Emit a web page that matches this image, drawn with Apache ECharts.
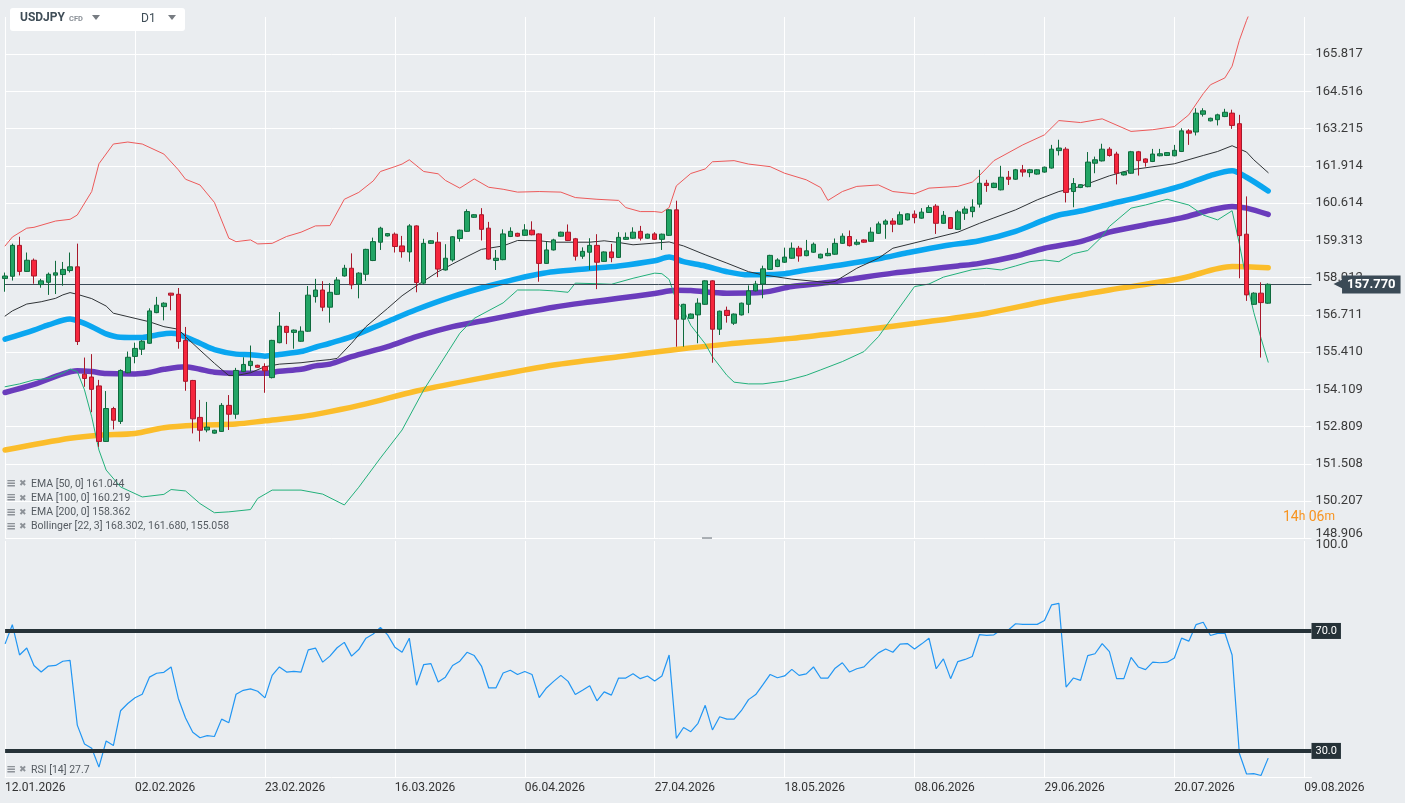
<!DOCTYPE html>
<html><head><meta charset="utf-8">
<script src="https://cdn.jsdelivr.net/npm/echarts@6/dist/echarts.min.js"></script>
<style>html,body{margin:0;padding:0;background:#eaedf0;overflow:hidden}#c{width:1405px;height:803px}</style>
</head><body><div id="c"></div>
<script>
// ---------- DATA ----------
const xTickLabels = ['12.01.2026','02.02.2026','23.02.2026','16.03.2026','06.04.2026','27.04.2026','18.05.2026','08.06.2026','29.06.2026','20.07.2026','09.08.2026'];
const yAxisMin = 148.906, yAxisStep = 1.300846, yAxisSteps = 14;
const lastPrice = 157.770;

const opens = [157.98,158.06,159.14,158.23,158.62,157.77,157.85,158.10,158.12,158.26,
158.39,154.64,154.54,154.23,152.29,153.44,152.99,154.69,155.26,155.51,
155.72,156.79,157.00,157.47,157.43,155.82,154.42,153.13,152.69,152.58,
152.64,153.55,153.24,154.73,154.94,154.95,154.91,154.52,155.74,156.31,
156.10,155.79,156.14,157.35,157.58,156.98,157.43,158.07,158.34,157.78,
158.13,158.61,159.25,159.47,159.53,159.12,158.91,159.82,157.82,159.21,
159.25,158.28,158.63,159.38,159.63,160.12,160.21,159.74,158.61,158.64,
159.45,159.56,159.49,159.67,159.54,158.51,158.98,159.46,159.60,159.37,
158.76,158.90,159.14,158.58,158.91,158.72,159.35,159.39,159.63,159.39,
159.54,159.35,159.49,160.38,156.56,156.59,156.71,157.08,157.90,156.21,
156.87,156.42,156.71,157.08,157.55,157.79,158.30,158.40,158.55,158.69,
159.04,158.78,158.90,158.70,158.78,158.83,159.21,159.45,159.18,159.33,
159.28,159.56,159.88,159.99,159.88,160.03,160.23,160.09,160.29,160.51,
159.91,160.11,159.70,160.26,160.32,160.58,161.31,161.16,161.08,161.52,
161.45,161.78,161.68,161.63,161.70,161.84,162.45,162.50,161.02,161.16,
161.19,162.01,162.09,162.50,162.33,161.60,161.66,162.41,162.16,162.07,
162.27,162.28,162.27,162.42,163.14,163.10,163.72,163.49,163.53,163.64,
163.76,163.39,159.53,157.08,157.47,157.12];
const closes = [158.07,159.14,158.23,158.62,158.07,157.90,158.13,158.18,158.30,158.39,
155.78,154.49,154.11,152.29,153.44,153.03,154.77,155.23,155.54,155.79,
156.85,157.05,157.12,157.40,155.78,154.39,153.08,152.68,152.79,152.68,
153.55,153.24,154.77,154.98,155.09,154.88,154.76,155.82,156.32,156.10,
156.18,156.14,157.40,157.58,156.98,157.50,157.93,158.34,157.76,158.17,
159.00,159.27,159.74,159.55,159.10,158.92,159.82,157.84,159.21,159.30,
158.31,158.69,159.44,159.67,160.32,160.21,159.70,158.66,158.69,159.54,
159.63,159.46,159.68,159.51,158.51,158.98,159.33,159.60,159.31,158.76,
158.93,159.14,158.55,158.91,158.71,159.42,159.42,159.60,159.39,159.53,
159.35,159.53,160.38,156.56,157.08,156.74,157.12,157.90,156.21,156.84,
156.69,156.74,157.12,157.55,157.79,158.32,158.79,158.63,158.73,159.04,
158.77,158.95,159.18,158.83,158.86,159.21,159.46,159.13,159.25,159.25,
159.60,159.89,159.99,159.88,160.21,160.24,160.11,160.30,160.46,159.91,
160.19,159.73,160.31,160.41,160.48,161.31,161.23,161.31,161.52,161.45,
161.78,161.70,161.78,161.78,161.87,162.50,162.54,160.99,161.30,161.26,
162.05,162.13,162.50,162.28,161.66,161.70,162.41,162.10,162.04,162.33,
162.34,162.38,162.46,163.14,163.06,163.76,163.84,163.58,163.70,163.79,
163.33,159.48,157.41,157.47,157.14,157.78];
const lows = [157.52,157.91,158.09,158.21,157.80,157.66,157.41,157.44,157.73,158.19,
155.66,154.20,153.31,152.10,152.27,152.71,152.90,154.67,155.02,155.31,
155.70,156.77,156.52,156.87,155.53,154.06,152.57,152.29,152.61,152.56,
152.62,152.69,153.08,154.71,154.73,154.86,153.99,154.49,155.72,155.69,
155.53,155.77,156.12,157.14,156.84,156.44,157.41,158.05,157.61,157.29,
157.90,158.59,158.98,159.45,158.89,158.71,158.57,157.50,157.76,159.19,
158.03,158.26,158.57,159.27,159.61,160.10,159.31,158.64,158.28,158.62,
159.43,159.44,159.47,159.49,157.87,158.49,158.96,159.44,159.29,158.61,
158.67,158.28,157.61,158.56,158.55,158.70,159.33,159.37,159.31,159.37,
159.33,158.98,159.47,155.60,155.60,156.57,155.72,157.06,155.04,156.01,
156.44,156.36,156.69,156.77,157.53,157.29,158.28,158.38,158.53,158.67,
158.57,158.76,158.88,158.68,158.76,158.81,159.19,159.10,159.14,159.23,
159.26,159.54,159.37,159.60,159.86,160.01,159.91,160.07,160.27,159.54,
159.89,159.71,159.68,160.03,160.12,160.46,161.01,161.14,161.06,161.25,
161.43,161.54,161.52,161.61,161.68,161.82,162.28,160.64,160.47,161.14,
161.17,161.66,162.07,162.24,161.27,161.58,161.64,161.58,161.89,162.05,
162.25,162.26,162.25,162.40,162.65,162.98,163.64,163.47,163.33,163.62,
163.21,157.99,157.20,157.06,155.22,157.10];
const highs = [158.19,159.20,159.44,158.89,158.68,157.97,158.19,158.60,158.56,158.89,
159.20,155.22,155.34,154.44,154.05,153.50,154.81,155.43,155.74,155.83,
156.94,157.34,157.15,157.48,157.65,156.29,154.44,153.74,153.67,152.70,
153.63,153.91,154.86,155.23,155.64,154.97,155.02,155.84,156.81,156.33,
156.20,156.31,157.72,157.97,157.89,157.82,158.03,158.46,158.86,158.20,
159.02,159.41,159.79,159.57,159.59,159.47,159.88,159.84,159.37,159.32,
159.60,159.18,159.46,159.69,160.40,160.23,160.44,159.96,158.98,159.70,
159.77,159.58,159.88,159.98,159.56,159.27,159.37,159.62,159.87,159.40,
159.07,159.39,159.53,158.93,159.19,159.60,159.59,159.77,159.82,159.55,
159.60,159.55,160.40,160.70,157.10,156.76,157.29,157.92,157.92,156.86,
157.00,156.76,157.14,157.74,157.90,158.43,158.81,158.69,159.06,159.24,
159.12,159.33,159.24,158.85,159.04,159.38,159.56,159.66,159.35,159.35,
159.77,159.97,160.05,160.09,160.32,160.26,160.36,160.44,160.54,160.58,
160.34,160.13,160.38,160.50,160.75,161.78,161.43,161.33,161.92,161.74,
161.81,161.95,161.81,161.80,161.89,162.65,162.83,162.57,161.49,161.28,
162.40,162.24,162.69,162.57,162.41,161.72,162.44,162.44,162.18,162.51,
162.51,162.40,162.65,163.23,163.20,163.93,163.93,163.60,163.74,163.91,
163.88,163.70,160.85,157.50,157.85,157.81];

const ema50 = [[0,155.86],[4,156.18],[6,156.36],[9,156.57],[10,156.51],[12,156.30],[14,156.05],[16,155.93],[19,155.92],[21,156.01],[23,156.07],[24,156.04],[27,155.72],[29,155.50],[32,155.34],[34,155.32],[36,155.27],[38,155.33],[41,155.43],[43,155.58],[45,155.72],[48,155.95],[53,156.48],[57,156.90],[62,157.35],[67,157.72],[71,157.98],[74,158.14],[76,158.22],[81,158.33],[85,158.42],[90,158.60],[92,158.73],[94,158.57],[97,158.42],[100,158.22],[103,158.11],[105,158.11],[108,158.15],[111,158.28],[116,158.46],[121,158.67],[125,158.88],[130,159.12],[135,159.30],[140,159.63],[144,160.03],[146,160.20],[149,160.34],[153,160.58],[158,160.88],[163,161.22],[167,161.58],[170,161.75],[172,161.52],[175,161.04]];
const ema100 = [[0,154.00],[4,154.28],[8,154.65],[10,154.76],[12,154.73],[14,154.66],[18,154.65],[20,154.70],[22,154.81],[25,154.90],[27,154.81],[29,154.71],[32,154.67],[36,154.67],[38,154.74],[41,154.81],[43,154.93],[45,154.99],[48,155.25],[53,155.60],[57,155.95],[62,156.30],[67,156.54],[71,156.74],[76,156.98],[81,157.16],[85,157.29],[90,157.46],[93,157.57],[95,157.56],[100,157.47],[105,157.50],[109,157.70],[114,157.84],[118,157.99],[123,158.17],[128,158.31],[132,158.42],[135,158.51],[140,158.76],[144,159.04],[149,159.27],[153,159.60],[158,159.86],[163,160.10],[167,160.37],[170,160.50],[172,160.44],[175,160.22]];
const ema200 = [[0,151.99],[9,152.40],[13,152.51],[18,152.57],[22,152.77],[27,152.86],[32,152.90],[36,153.01],[41,153.15],[45,153.33],[50,153.60],[57,154.05],[67,154.55],[76,154.96],[85,155.25],[93,155.50],[100,155.69],[109,155.89],[118,156.16],[128,156.48],[136,156.77],[144,157.18],[153,157.58],[163,157.99],[170,158.40],[175,158.36]];
const bbUpper = [[0,159.12],[1,159.43],[3,159.74],[4,159.77],[7,159.99],[9,160.05],[10,160.20],[12,161.02],[13,161.99],[15,162.68],[17,162.75],[19,162.68],[22,162.33],[24,161.78],[25,161.45],[27,161.25],[29,160.64],[31,159.39],[32,159.27],[34,159.33],[35,159.19],[37,159.21],[39,159.45],[41,159.60],[43,159.82],[45,159.83],[47,160.75],[49,160.99],[51,161.39],[52,161.72],[54,161.89],[55,161.98],[56,162.13],[58,161.72],[60,161.64],[61,161.41],[63,161.14],[65,161.46],[67,161.17],[69,161.10],[71,161.00],[74,161.02],[77,161.00],[79,160.81],[82,160.75],[85,160.71],[86,160.46],[88,160.32],[90,160.32],[91,160.29],[92,160.46],[93,161.22],[95,161.65],[97,161.81],[98,162.06],[101,162.10],[103,161.98],[106,161.89],[108,161.66],[111,161.43],[113,161.16],[114,160.71],[116,161.02],[118,161.20],[121,161.25],[123,161.02],[126,160.94],[128,161.14],[132,161.20],[134,161.35],[135,161.58],[137,162.10],[141,162.65],[144,163.00],[146,163.50],[149,163.43],[152,163.56],[156,163.12],[159,163.18],[162,163.29],[164,163.70],[166,164.44],[167,164.75],[169,164.99],[170,165.40],[171,166.30],[172,167.00],[173,167.60],[174,168.00],[175,168.30]];
const bbMid = [[0,156.67],[1,156.85],[3,157.09],[5,157.17],[7,157.29],[8,157.41],[9,157.49],[10,157.43],[12,157.28],[14,157.02],[15,156.77],[18,156.59],[20,156.47],[22,156.30],[24,156.21],[25,155.95],[27,155.48],[29,155.02],[31,154.59],[32,154.59],[34,154.69],[36,154.90],[38,154.99],[41,155.04],[43,155.10],[45,155.15],[46,155.19],[48,155.72],[50,156.30],[53,156.94],[55,157.38],[57,157.73],[60,158.22],[62,158.49],[64,158.75],[66,159.00],[69,159.12],[71,159.31],[74,159.30],[76,159.25],[81,159.25],[83,159.30],[85,159.24],[87,159.16],[90,159.22],[92,159.26],[94,159.12],[97,158.81],[100,158.52],[103,158.22],[105,158.11],[109,157.96],[114,157.84],[115,157.88],[118,158.34],[121,158.69],[123,159.04],[128,159.35],[132,159.60],[135,159.91],[137,160.10],[140,160.38],[143,160.73],[146,161.02],[149,161.20],[153,161.57],[156,161.78],[162,161.99],[166,162.28],[168,162.42],[170,162.62],[172,162.40],[173,162.13],[175,161.68]];
const bbLower = [[0,154.20],[2,154.30],[4,154.44],[6,154.49],[8,154.67],[9,154.82],[10,154.73],[11,154.09],[12,153.15],[13,151.99],[14,151.29],[16,150.70],[19,150.35],[22,150.44],[23,150.61],[25,150.56],[27,150.12],[29,149.80],[31,149.83],[34,149.91],[35,150.30],[37,150.59],[41,150.59],[44,150.45],[47,150.07],[49,150.69],[52,151.71],[55,152.69],[58,154.09],[63,156.07],[65,156.59],[69,157.13],[71,157.58],[74,157.58],[76,157.55],[78,157.50],[79,157.82],[82,157.80],[84,157.78],[87,157.99],[90,158.17],[91,158.15],[92,157.95],[93,157.20],[94,156.88],[95,156.35],[97,155.70],[98,155.25],[100,154.60],[101,154.36],[103,154.30],[105,154.30],[108,154.40],[111,154.60],[113,154.79],[116,155.08],[119,155.43],[121,155.95],[123,156.65],[126,157.70],[128,157.79],[130,158.03],[134,158.29],[136,158.34],[138,158.28],[140,158.42],[142,158.57],[144,158.63],[146,158.57],[148,158.85],[150,158.96],[152,159.45],[153,159.80],[156,160.44],[158,160.55],[161,160.75],[164,160.55],[166,160.20],[168,160.03],[170,160.35],[171,159.20],[172,157.90],[173,156.80],[174,155.90],[175,155.06]];

const rsi = [65.7,72.1,62.0,64.3,58.5,56.3,58.3,58.5,59.9,60.2,
38.6,32.3,30.9,24.6,33.3,31.8,43.4,45.8,47.7,48.9,
54.6,55.9,56.2,58.0,47.5,41.0,36.2,34.4,35.1,34.8,
40.6,39.4,48.9,50.2,50.7,49.9,47.7,55.2,58.0,56.3,
56.5,56.3,63.7,64.3,59.6,61.6,64.4,66.2,61.6,63.8,
67.6,69.0,71.2,68.7,64.6,62.9,67.6,51.9,58.8,59.1,
53.0,54.6,58.5,59.9,62.9,61.8,58.3,51.0,51.0,56.0,
56.9,55.5,56.5,55.5,47.8,51.0,53.2,55.2,53.2,48.8,
50.2,51.7,46.7,49.7,48.6,54.3,54.3,55.7,54.1,55.0,
53.3,55.0,62.0,34.2,37.8,36.4,39.2,45.2,37.0,41.4,
40.6,40.6,43.4,47.1,48.8,52.1,55.5,54.4,55.0,57.2,
55.2,55.7,58.0,54.3,54.3,57.6,59.4,56.3,57.4,58.0,
60.5,62.7,64.0,62.9,65.6,65.8,64.0,65.7,67.6,57.4,
60.7,54.1,59.8,60.5,61.5,68.8,68.5,68.7,70.4,70.3,
72.4,72.2,72.2,72.2,73.5,78.7,79.2,51.3,54.3,53.5,
61.8,62.4,65.8,63.1,54.1,54.1,61.2,58.0,57.1,59.6,
59.4,59.6,61.0,67.6,66.6,72.1,72.9,68.5,69.2,69.3,
62.0,29.2,22.3,22.4,21.8,27.6];
const rsiLevels = [70, 30];
const rsiAxisMin = 21.3, rsiAxisMax = 100;

const legendTexts = ['EMA [50, 0] 161.044','EMA [100, 0] 160.219','EMA [200, 0] 158.362','Bollinger [22, 3] 168.302, 161.680, 155.058'];
const rsiLegend = 'RSI [14] 27.7';

// ---------- BUILD ----------
const yAxisTop = yAxisMin + yAxisSteps * yAxisStep;
const slotCount = 182;
const cats = Array.from({length: slotCount}, (_, i) => String(i));
const candles = opens.map((o, i) => [o, closes[i], lows[i], highs[i]]);
const FONT = 'Roboto, "Noto Sans", sans-serif';

const chart = echarts.init(document.getElementById('c'));
const lineS = (data, color, width, z, smooth) => ({
  type: 'line', xAxisIndex: 0, yAxisIndex: 0, data, showSymbol: false, symbol: 'none',
  smooth: smooth || false, silent: true, z,
  lineStyle: {color, width, cap: 'round', join: 'round'}
});

const graphics = [];
graphics.push({type:'rect', left:10, top:8, shape:{width:175, height:23, r:3}, style:{fill:'#ffffff'}, z:100});
graphics.push({type:'text', left:20, top:12, style:{text:'USDJPY', fill:'#3f4d57', font:'bold 12px Roboto'}, z:101});
graphics.push({type:'text', left:69, top:15, style:{text:'CFD', fill:'#8a9097', font:'bold 7.5px Roboto'}, z:101});
graphics.push({type:'polygon', shape:{points:[[92,15],[100,15],[96,20]]}, style:{fill:'#777c82'}, z:101});
graphics.push({type:'text', left:141, top:13, style:{text:'D1', fill:'#3f4d57', font:'12px Roboto'}, z:101});
graphics.push({type:'polygon', shape:{points:[[168,15],[176,15],[172,20]]}, style:{fill:'#777c82'}, z:101});
legendTexts.forEach((t, k) => {
  const y = 484 + k * 14.2;
  graphics.push({type:'text', x:6, y:y, style:{text:'≡', fill:'#8d9298', font:'bold 12px "DejaVu Sans"', verticalAlign:'middle'}, z:100});
  graphics.push({type:'text', x:19, y:y, style:{text:'✖', fill:'#8d9298', font:'9px "DejaVu Sans"', verticalAlign:'middle'}, z:100});
  graphics.push({type:'text', x:31, y:y, style:{text:t, fill:'#555b61', font:'10.5px Roboto', verticalAlign:'middle'}, z:100});
});
graphics.push({type:'text', x:6, y:770, style:{text:'≡', fill:'#8d9298', font:'bold 12px "DejaVu Sans"', verticalAlign:'middle'}, z:100});
graphics.push({type:'text', x:19, y:770, style:{text:'✖', fill:'#8d9298', font:'9px "DejaVu Sans"', verticalAlign:'middle'}, z:100});
graphics.push({type:'text', x:31, y:770, style:{text:rsiLegend, fill:'#555b61', font:'10.5px Roboto', verticalAlign:'middle'}, z:100});
graphics.push({type:'text', x:1283, y:517, style:{text:'{n|14}{u|h} {n|06}{u|m}', verticalAlign:'middle',
  rich:{n:{fill:'#f7931e', font:'14px Roboto'}, u:{fill:'#f7931e', font:'12px Roboto'}}}, z:100});
graphics.push({type:'rect', left:702, top:537, shape:{width:10, height:2}, style:{fill:'#a9aeb3'}, z:100});

const option = {
  backgroundColor: '#eaedf0',
  animation: false,
  textStyle: {fontFamily: FONT},
  grid: [
    {left: 5.1, top: 17, width: 1306.4, height: 521.3},
    {left: 5.1, top: 541, width: 1306.4, height: 236}
  ],
  xAxis: [
    {type:'category', gridIndex:0, data:cats, boundaryGap:false,
     axisLine:{show:false}, axisTick:{show:false}, axisLabel:{show:false},
     splitLine:{show:true, interval:17, lineStyle:{color:'#ffffff', width:1}}},
    {type:'category', gridIndex:1, data:cats, boundaryGap:false,
     axisLine:{show:true, lineStyle:{color:'#ffffff', width:1}}, axisTick:{show:false},
     axisLabel:{show:true, interval:17, align:'left', margin:5, color:'#333', fontSize:12, fontFamily:FONT,
       formatter:(v, idx) => xTickLabels[idx / 18] || ''},
     splitLine:{show:true, interval:17, lineStyle:{color:'#ffffff', width:1}}}
  ],
  yAxis: [
    {type:'value', gridIndex:0, position:'right', min:yAxisMin, max:yAxisTop, interval:yAxisStep,
     axisLine:{show:false}, axisTick:{show:false},
     axisLabel:{color:'#3a3a3a', fontSize:13, margin:4, fontFamily:FONT, showMaxLabel:false,
       formatter:v => {
         if (v > yAxisTop - yAxisStep / 2) return '';
         if (v < yAxisMin + yAxisStep / 2) return '{lo|' + v.toFixed(3) + '}';
         return v.toFixed(3);
       },
       rich:{lo:{color:'#3a3a3a', fontSize:13, fontFamily:FONT, padding:[0,0,9,0]}}},
     splitLine:{show:true, showMaxLine:false, lineStyle:{color:'#ffffff', width:1}}},
    {type:'value', gridIndex:1, position:'right', min:rsiAxisMin, max:rsiAxisMax,
     axisLine:{show:false}, axisTick:{show:false}, splitLine:{show:false},
     axisLabel:{color:'#3a3a3a', fontSize:13, margin:4, fontFamily:FONT,
       formatter:v => (v === rsiAxisMax ? '{t|' + rsiAxisMax.toFixed(1) + '}' : ''),
       rich:{t:{color:'#3a3a3a', fontSize:13, fontFamily:FONT, padding:[8,0,0,0]}}}}
  ],
  graphic: graphics,
  series: [
    lineS(ema200, '#fbbd2b', 5.5, 2, 0.3),
    lineS(ema100, '#6a3cbc', 5.5, 2, 0.3),
    lineS(ema50, '#0aa6f0', 5.5, 2, 0.3),
    lineS(bbUpper, '#ec5a5a', 1, 3),
    lineS(bbMid, '#2f3336', 1, 3),
    lineS(bbLower, '#22b07a', 1, 3),
    {type:'candlestick', xAxisIndex:0, yAxisIndex:0, data:candles, barWidth:5, clip:false, z:5, silent:true,
     itemStyle:{color:'#22a565', color0:'#f6263d', borderColor:'#0f6a3d', borderColor0:'#a8182b', borderWidth:1},
     markLine:{silent:true, symbol:['none','none'], animation:false,
       data:[{yAxis:lastPrice}],
       lineStyle:{color:'#3b4a56', width:1, type:'solid'},
       label:{show:true, position:'end', distance:22,
         formatter:'{a|◀}{b|' + lastPrice.toFixed(3) + '}',
         rich:{a:{color:'#3b4a56', fontSize:15, fontFamily:'"DejaVu Sans"', padding:[0,-3,0,0]},
               b:{backgroundColor:'#3b4a56', color:'#ffffff', fontSize:13, fontWeight:'bold', fontFamily:FONT, padding:[3,5,2,5]}}}}},
    {type:'line', xAxisIndex:1, yAxisIndex:1, data:rsi, showSymbol:false, symbol:'none', silent:true, z:3,
     lineStyle:{color:'#2196f3', width:1.2},
     markLine:{silent:true, symbol:['none','none'], animation:false,
       data: rsiLevels.map(v => ({yAxis:v})),
       lineStyle:{color:'#263238', width:4, type:'solid'},
       label:{show:true, position:'end', distance:0, formatter:p => Number(p.value).toFixed(1),
         backgroundColor:'#263238', color:'#ffffff', fontSize:11, fontFamily:FONT, padding:[3,4,2,4]}}}
  ]
};
chart.setOption(option);
</script>
</body></html>
